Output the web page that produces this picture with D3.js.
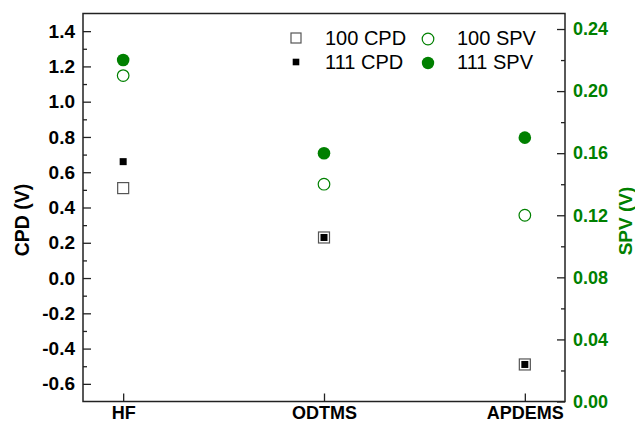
<!DOCTYPE html>
<html><head><meta charset="utf-8">
<script src="https://cdn.jsdelivr.net/npm/d3@7"></script>
<style>
html,body{margin:0;padding:0;background:#fff;}
svg{display:block;font-family:"Liberation Sans",Arial,sans-serif;}
</style></head>
<body>
<svg id="chart" width="635" height="425"></svg>
<script>
// ---- data ----
const categories = ["HF", "ODTMS", "APDEMS"];
const cpd100 = [0.51, 0.23, -0.49];
const cpd111 = [0.66, 0.23, -0.49];
const spv100 = [0.21, 0.14, 0.12];
const spv111 = [0.22, 0.16, 0.17];
const leftTicks = [-0.6, -0.4, -0.2, 0.0, 0.2, 0.4, 0.6, 0.8, 1.0, 1.2, 1.4];
const rightTicks = [0.00, 0.04, 0.08, 0.12, 0.16, 0.20, 0.24];
const legendLabels = ["100 CPD", "111 CPD", "100 SPV", "111 SPV"];

const green = "#008000";
const svg = d3.select("#chart");
const L = 83, R = 565, T = 13.5, B = 401.5;

const x = d3.scaleLinear().domain([-0.2, 2.2]).range([L, R]);
const yL = d3.scaleLinear().domain([-0.7, 1.5]).range([B, T]);
const yR = d3.scaleLinear().domain([0, 0.25]).range([B, T]);

// minor ticks
const leftMinor = d3.range(-0.5, 1.45, 0.2);
const rightMinor = d3.range(0.02, 0.245, 0.04);

function styleAxis(g, color, size) {
  g.select(".domain").remove();
  g.selectAll("line").attr("stroke", "#222").attr("stroke-width", 1.3);
  g.selectAll("text").attr("fill", color).attr("font-weight", "bold").attr("font-size", size);
}

// left axis
svg.append("g").attr("transform", `translate(${L},0)`)
  .call(d3.axisLeft(yL).tickValues(leftMinor).tickSize(-4).tickFormat(""))
  .call(g => styleAxis(g, "#000", 19));
svg.append("g").attr("transform", `translate(${L},0)`)
  .call(d3.axisLeft(yL).tickValues(leftTicks).tickSizeInner(-8).tickSizeOuter(0).tickPadding(8)
    .tickFormat(d => d3.format(".1f")(d).replace("−", "-")))
  .call(g => styleAxis(g, "#000", 19));

// right axis
svg.append("g").attr("transform", `translate(${R},0)`)
  .call(d3.axisRight(yR).tickValues(rightMinor).tickSize(-4).tickFormat(""))
  .call(g => styleAxis(g, green, 18));
svg.append("g").attr("transform", `translate(${R},0)`)
  .call(d3.axisRight(yR).tickValues(rightTicks).tickSizeInner(-8).tickSizeOuter(0).tickPadding(8)
    .tickFormat(d3.format(".2f")))
  .call(g => styleAxis(g, green, 18));

// bottom axis
svg.append("g").attr("transform", `translate(0,${B})`)
  .call(d3.axisBottom(x).tickValues([0, 1, 2]).tickSizeInner(-8).tickSizeOuter(0).tickPadding(5)
    .tickFormat(i => categories[i]))
  .call(g => styleAxis(g, "#000", 18));

// frame
svg.append("rect").attr("x", L).attr("y", T).attr("width", R - L).attr("height", B - T)
  .attr("fill", "none").attr("stroke", "#222").attr("stroke-width", 1.5);

// axis titles
svg.append("text").attr("transform", `translate(29,220) rotate(-90)`)
  .attr("text-anchor", "middle").attr("font-weight", "bold").attr("font-size", 19.5)
  .attr("fill", "#000").text("CPD (V)");
svg.append("text").attr("transform", `translate(632,221) rotate(-90)`)
  .attr("text-anchor", "middle").attr("font-weight", "bold").attr("font-size", 19)
  .attr("fill", green).text("SPV (V)");

// marks
const idx = d3.range(categories.length);
const plot = svg.append("g");
const sqOpen = 11, sqFill = 7, rad = 6.3;
plot.selectAll(".c100").data(idx).join("rect")
  .attr("x", i => x(i) - sqOpen / 2).attr("y", i => yL(cpd100[i]) - sqOpen / 2)
  .attr("width", sqOpen).attr("height", sqOpen)
  .attr("fill", "#fff").attr("stroke", "#555").attr("stroke-width", 1.2);
plot.selectAll(".c111").data(idx).join("rect")
  .attr("x", i => x(i) - sqFill / 2).attr("y", i => yL(cpd111[i]) - sqFill / 2)
  .attr("width", sqFill).attr("height", sqFill).attr("fill", "#000");
plot.selectAll(".s100").data(idx).join("circle")
  .attr("cx", i => x(i)).attr("cy", i => yR(spv100[i])).attr("r", rad - 0.5)
  .attr("fill", "none").attr("stroke", green).attr("stroke-width", 1.2);
plot.selectAll(".s111").data(idx).join("circle")
  .attr("cx", i => x(i)).attr("cy", i => yR(spv111[i])).attr("r", rad)
  .attr("fill", green);

// legend
const lg = svg.append("g").attr("font-size", 20).attr("fill", "#000");
const rows = [38, 62];
lg.append("rect").attr("x", 296 - 5).attr("y", rows[0] - 5).attr("width", 10).attr("height", 10)
  .attr("fill", "#fff").attr("stroke", "#555").attr("stroke-width", 1.2);
lg.append("rect").attr("x", 296 - 3.3).attr("y", rows[1] - 3.3).attr("width", 6.6).attr("height", 6.6)
  .attr("fill", "#000");
lg.append("circle").attr("cx", 428).attr("cy", rows[0] + 1).attr("r", 5.8)
  .attr("fill", "none").attr("stroke", green).attr("stroke-width", 1.2);
lg.append("circle").attr("cx", 428).attr("cy", rows[1] + 1).attr("r", 6.2).attr("fill", green);
[[325, rows[0], 0], [325, rows[1], 1], [457, rows[0], 2], [457, rows[1], 3]].forEach(([tx, ty, k]) => {
  lg.append("text").attr("x", tx).attr("y", ty + 7).text(legendLabels[k]);
});
</script>
</body></html>
